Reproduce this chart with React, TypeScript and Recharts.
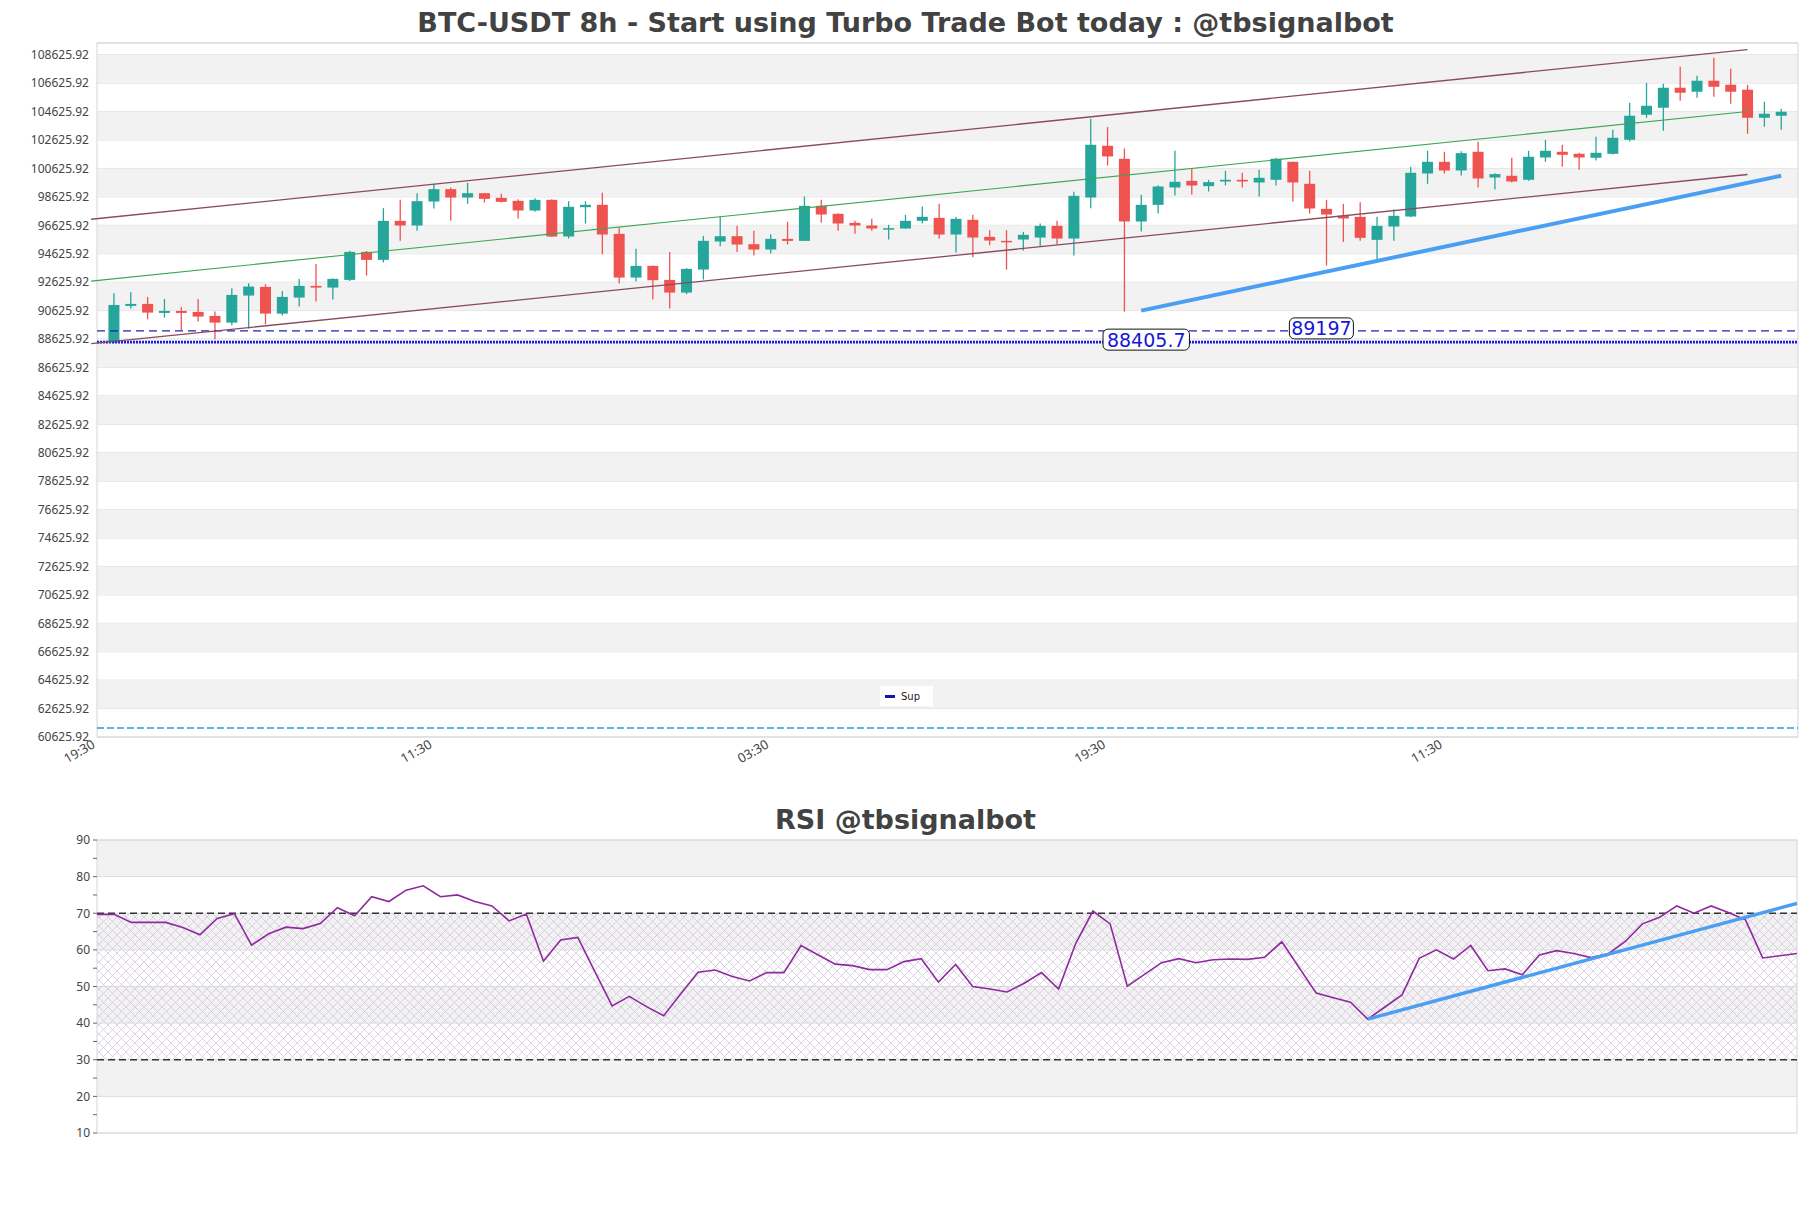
import React from "react";
import {
  Bar,
  CartesianGrid,
  ComposedChart,
  Legend,
  Line,
  LineChart,
  ReferenceArea,
  ReferenceDot,
  ReferenceLine,
  XAxis,
  YAxis,
} from "recharts";

// 8h candles, index 0..99
const opens = [
  88400, 90953, 91094, 90460, 90601, 90531, 90249, 89780, 91681, 92291,
  90413, 91540, 92362, 92244, 92784, 94755, 94192, 96938, 96609, 98299,
  99168, 98581, 98886, 98557, 98346, 97666, 98416, 95835, 97900, 98064,
  96023, 92948, 93770, 92784, 91892, 93511, 95483, 95858, 95295, 94920,
  95670, 95530, 97994, 97431, 96797, 96609, 96328, 96398, 96938, 97149,
  95976, 97009, 95812, 95530, 95624, 95765, 96586, 95694, 98581, 102219,
  101303, 96891, 98064, 99285, 99754, 99379, 99707, 99825, 99637, 99825,
  101092, 99543, 97783, 97290, 97220, 95600, 96539, 97243, 100271, 101092,
  100482, 101796, 99989, 100107, 99825, 101397, 101796, 101655, 101374, 101655,
  102641, 104401, 104894, 106302, 106021, 106795, 106514, 106162, 104190, 104331,
];
const highs = [
  91850, 91915, 91587, 91446, 90883, 91446, 90554, 92197, 92549, 92478,
  92009, 92854, 93910, 92900, 94826, 94826, 97830, 98416, 98886, 99543,
  99285, 99614, 98900, 98839, 98463, 98534, 98463, 98323, 98323, 98909,
  96468, 94967, 93800, 94755, 93605, 95882, 97220, 96586, 96234, 96003,
  96868, 98651, 98416, 97460, 96938, 97079, 96656, 97360, 97947, 98135,
  97220, 97360, 96281, 96281, 96163, 96750, 96938, 98980, 104120, 103533,
  102031, 98768, 99449, 101866, 100646, 99825, 100459, 100318, 100529, 101374,
  101120, 100459, 98416, 98135, 98252, 97220, 97760, 100740, 101866, 101796,
  101843, 102500, 100294, 101374, 101866, 102641, 102289, 101726, 102852, 103345,
  105246, 106654, 106584, 107781, 107147, 108415, 107640, 106514, 105317, 104824,
];
const lows = [
  88330, 90765, 90015, 90132, 89263, 89850, 88606, 89592, 89357, 89662,
  90272, 90906, 91259, 91399, 92713, 93089, 94004, 95530, 96234, 97807,
  96938, 98135, 98229, 98229, 97079, 97572, 95800, 95694, 96750, 94591,
  92526, 92666, 91399, 90765, 91775, 92807, 95155, 94755, 94497, 94638,
  95272, 95530, 96797, 96234, 96023, 96234, 95624, 96380, 96750, 95670,
  94708, 94380, 95225, 93511, 94849, 95131, 95272, 94497, 97830, 100834,
  90554, 96187, 97454, 98722, 98792, 99003, 99426, 99285, 98651, 99426,
  98299, 97454, 93793, 95459, 95530, 94192, 95530, 97200, 99543, 100271,
  100130, 99285, 99144, 99637, 99754, 101092, 100740, 100529, 101186, 101600,
  102524, 104190, 103275, 105387, 105598, 105669, 105176, 103064, 103556, 103345,
];
const closes = [
  91020, 91094, 90484, 90601, 90460, 90202, 89780, 91728, 92314, 90413,
  91587, 92362, 92244, 92854, 94755, 94192, 96938, 96609, 98323, 99168,
  98581, 98886, 98487, 98276, 97666, 98416, 95835, 97924, 98064, 95976,
  92948, 93770, 92760, 91892, 93558, 95530, 95858, 95272, 94920, 95670,
  95530, 97994, 97384, 96750, 96609, 96398, 96422, 96938, 97220, 95976,
  97079, 95765, 95553, 95483, 95952, 96586, 95694, 98698, 102289, 101468,
  96891, 98064, 99355, 99684, 99426, 99660, 99825, 99707, 99966, 101303,
  99637, 97807, 97384, 97103, 95741, 96586, 97290, 100318, 101092, 100482,
  101702, 99918, 100224, 99707, 101444, 101866, 101585, 101397, 101726, 102782,
  104331, 105035, 106302, 105950, 106795, 106373, 106021, 104190, 104472, 104613,
];

const rsiValues = [
  69.7, 69.7, 67.5, 67.5, 67.5, 66.1, 64.1, 68.6, 69.9, 61.3,
  64.4, 66.2, 65.8, 67.2, 71.5, 69.3, 74.5, 73.2, 76.3, 77.5,
  74.5, 75.0, 73.2, 72.0, 67.9, 69.8, 56.9, 62.7, 63.4, 54.0,
  44.7, 47.3, 44.5, 42.0, 48.0, 53.9, 54.5, 52.7, 51.5, 53.8,
  53.8, 61.2, 58.6, 56.1, 55.7, 54.6, 54.6, 56.8, 57.6, 51.2,
  56.0, 50.0, 49.3, 48.5, 50.9, 53.8, 49.3, 61.8, 70.6, 67.1,
  50.1, 53.3, 56.5, 57.6, 56.5, 57.3, 57.5, 57.4, 58.0, 62.2,
  55.2, 48.2, 46.9, 45.7, 41.1, 44.4, 47.7, 57.7, 60.0, 57.5,
  61.2, 54.3, 54.8, 53.2, 58.6, 59.8, 59.0, 57.9, 58.9, 62.3,
  67.1, 68.9, 72.0, 70.0, 72.0, 70.2, 68.2, 57.8, 58.4, 59.0,
];

const timeTickIndex = [-1, 19, 39, 59, 79];
const timeTickLabels = ["19:30", "11:30", "03:30", "19:30", "11:30"];

const priceTicks = [
  60625.92, 62625.92, 64625.92, 66625.92, 68625.92, 70625.92, 72625.92,
  74625.92, 76625.92, 78625.92, 80625.92, 82625.92, 84625.92, 86625.92,
  88625.92, 90625.92, 92625.92, 94625.92, 96625.92, 98625.92, 100625.92,
  102625.92, 104625.92, 106625.92, 108625.92,
];
const priceDomain = [60625.92, 109450];
const rsiTicks = [10, 15, 20, 25, 30, 35, 40, 45, 50, 55, 60, 65, 70, 75, 80, 85, 90];
const rsiGridValues = [10, 20, 30, 40, 50, 60, 70, 80, 90];
const rsiGrayBands = [[20, 30], [40, 50], [60, 70], [80, 90]];

// trend lines, as [index, price] end points
const channelUpper = [{ x: -1.35, y: 97050 }, { x: 97, y: 108990 }];
const channelMid = [{ x: -1.35, y: 92700 }, { x: 97, y: 104630 }];
const channelLower = [{ x: -1.35, y: 88300 }, { x: 97, y: 100200 }];
const supportTrend = [{ x: 61, y: 90620 }, { x: 99, y: 100110 }];
const rsiTrend = [{ x: 74, y: 41.1 }, { x: 99, y: 72.7 }];

const resistanceLevel = 89197;
const supportLevel = 88405.7;
const floorLevel = 61260;
const levelTags = [
  { x: 61.3, y: supportLevel, text: "88405.7" },
  { x: 71.7, y: resistanceLevel, text: "89197" },
];

const candles = opens.map((o, i) => ({
  i,
  o,
  h: highs[i],
  l: lows[i],
  c: closes[i],
  range: [lows[i], highs[i]],
}));
const rsiData = rsiValues.map((v, i) => ({ i, rsi: v }));

// every other tick gap is shaded grey, starting from the top band
const priceGrayBands: number[][] = [];
for (let k = 1; k + 1 < priceTicks.length; k += 2) {
  priceGrayBands.push([priceTicks[k], priceTicks[k + 1]]);
}

const UP = "#26a69a";
const DOWN = "#ef5350";
const FONT = "'Noto Sans', sans-serif";
const TITLE_FONT = "'DejaVu Sans', sans-serif";

function Candle(props: any) {
  const { x, width, payload } = props;
  let { y, height } = props;
  if (x == null || y == null || !payload) return null;
  if (height < 0) {
    y = y + height;
    height = -height;
  }
  const { o, h, l, c } = payload;
  const per = h === l ? 0 : height / (h - l);
  const py = (v: number) => y + (h - v) * per;
  const color = c >= o ? UP : DOWN;
  const cx = x + width / 2;
  const top = py(Math.max(o, c));
  const bot = py(Math.min(o, c));
  return (
    <g>
      <line x1={cx} x2={cx} y1={y} y2={y + height} stroke={color} strokeWidth={1.3} />
      <rect x={cx - 5.5} y={top} width={11} height={Math.max(1.5, bot - top)} fill={color} />
    </g>
  );
}

function PriceTag({ cx, cy, text }: { cx: number; cy: number; text: string }) {
  const w = text.length * 11.2 + 8;
  return (
    <g>
      <rect x={cx - w / 2} y={cy - 13} width={w} height={21} rx={5} fill="#fff" stroke="#111" strokeWidth={1} />
      <text x={cx} y={cy - 2.5} textAnchor="middle" dominantBaseline="central" fontSize={19} fill="#1717d6" fontFamily="'DejaVu Sans', sans-serif">
        {text}
      </text>
    </g>
  );
}

function TimeTick(props: any) {
  const { x, y, payload } = props;
  const label = timeTickLabels[timeTickIndex.indexOf(payload.value)] ?? "";
  return (
    <text x={x - 1} y={y + 10} transform={`rotate(-30, ${x - 1}, ${y + 10})`} textAnchor="end" fontSize={13} fill="#444" fontFamily={FONT}>
      {label}
    </text>
  );
}

function SupLegend() {
  return (
    <div style={{ background: "#fff", width: 53, height: 20, display: "flex", alignItems: "center", fontFamily: TITLE_FONT, fontSize: 10, color: "#222" }}>
      <span style={{ display: "inline-block", width: 10, height: 3, background: "#1414a8", marginLeft: 5, marginRight: 6 }} />
      Sup
    </div>
  );
}

const titleStyle = (top: number): React.CSSProperties => ({
  position: "absolute",
  left: 0,
  top,
  width: 1811,
  textAlign: "center",
  fontFamily: TITLE_FONT,
  fontWeight: 700,
  fontSize: 27,
  lineHeight: "30px",
  color: "#424242",
  whiteSpace: "nowrap",
});

export default function App() {
  return (
    <div style={{ position: "absolute", left: 0, top: 0, width: 1811, height: 1208, background: "#fff" }}>
      <div style={titleStyle(8)}>BTC-USDT 8h - Start using Turbo Trade Bot today : @tbsignalbot</div>
      <div style={{ position: "absolute", left: 0, top: 0 }}>
        <ComposedChart width={1811} height={800} data={candles} margin={{ top: 43, right: 13, bottom: 0, left: 0 }}>
          {priceGrayBands.map(([a, b]) => (
            <ReferenceArea key={a} y1={a} y2={b} fill="#f2f2f2" fillOpacity={1} stroke="none" ifOverflow="visible" />
          ))}
          <CartesianGrid vertical={false} stroke="#dcdcdc" />
          <ReferenceArea x1={-1} x2={100} y1={priceDomain[0]} y2={priceDomain[1]} fill="none" stroke="#d6d6d6" ifOverflow="visible" />
          <XAxis
            type="number"
            dataKey="i"
            domain={[-1, 100]}
            ticks={timeTickIndex}
            interval={0}
            allowDataOverflow
            height={63}
            tickLine={false}
            axisLine={false}
            tickSize={0}
            tickMargin={0}
            tick={<TimeTick />}
          />
          <YAxis
            type="number"
            domain={priceDomain}
            ticks={priceTicks}
            interval={0}
            allowDataOverflow
            width={97}
            tickLine={false}
            axisLine={false}
            tickSize={5}
            tickMargin={3}
            tickFormatter={(v: number) => v.toFixed(2)}
            tick={{ fontSize: 12, fill: "#444", fontFamily: FONT }}
          />
          <ReferenceLine y={floorLevel} stroke="#2f9bd6" strokeWidth={1.5} strokeDasharray="7 3" />
          <ReferenceLine y={resistanceLevel} stroke="#2222a8" strokeWidth={1.3} strokeDasharray="8 5" />
          <ReferenceLine y={supportLevel} stroke="#1a1adf" strokeWidth={2.6} strokeDasharray="2 1" />
          <ReferenceLine segment={channelUpper} stroke="#8a4a5e" strokeWidth={1.3} ifOverflow="visible" />
          <ReferenceLine segment={channelLower} stroke="#8a4a5e" strokeWidth={1.3} ifOverflow="visible" />
          <ReferenceLine segment={channelMid} stroke="#3aa655" strokeWidth={1.1} ifOverflow="visible" />
          <Bar dataKey="range" barSize={11} shape={Candle} isAnimationActive={false} />
          <ReferenceLine segment={supportTrend} stroke="#4a9ff2" strokeWidth={4} ifOverflow="visible" />
          {levelTags.map((t) => (
            <ReferenceDot
              key={t.text}
              x={t.x}
              y={t.y}
              r={0}
              ifOverflow="visible"
              shape={(p: any) => <PriceTag cx={p.cx} cy={p.cy} text={t.text} />}
            />
          ))}
          <Legend
            layout="horizontal"
            verticalAlign="middle"
            align="center"
            wrapperStyle={{ left: 880, top: 686, width: 53, height: 20 }}
            content={() => <SupLegend />}
          />
        </ComposedChart>
      </div>

      <div style={titleStyle(805)}>RSI @tbsignalbot</div>
      <div style={{ position: "absolute", left: 0, top: 800 }}>
        <LineChart width={1811} height={400} data={rsiData} margin={{ top: 40, right: 14, bottom: 67, left: 0 }}>
          <defs>
            <pattern id="rsiHatch" width="9" height="9" patternUnits="userSpaceOnUse">
              <path d="M0,0 L9,9 M9,0 L0,9" stroke="#cfc0da" strokeWidth={0.7} />
            </pattern>
          </defs>
          {rsiGrayBands.map(([a, b]) => (
            <ReferenceArea key={a} y1={a} y2={b} fill="#f2f2f2" fillOpacity={1} stroke="none" />
          ))}
          <ReferenceArea y1={30} y2={70} fill="url(#rsiHatch)" fillOpacity={1} stroke="none" />
          {rsiGridValues.map((v) => (
            <ReferenceLine key={v} y={v} stroke="#dcdcdc" />
          ))}
          <ReferenceArea x1={0} x2={99} y1={10} y2={90} fill="none" stroke="#d6d6d6" ifOverflow="visible" />
          <XAxis type="number" dataKey="i" domain={[0, 99]} hide />
          <YAxis
            type="number"
            domain={[10, 90]}
            ticks={rsiTicks}
            interval={0}
            width={97}
            axisLine={false}
            tickSize={4}
            tickMargin={3}
            tickLine={{ stroke: "#666" }}
            tickFormatter={(v: number) => (v % 10 === 0 ? String(v) : "")}
            tick={{ fontSize: 12, fill: "#444", fontFamily: FONT }}
          />
          <ReferenceLine y={70} stroke="#333" strokeWidth={1.3} strokeDasharray="7 4" />
          <ReferenceLine y={30} stroke="#333" strokeWidth={1.3} strokeDasharray="7 4" />
          <Line type="linear" dataKey="rsi" stroke="#8e2a9e" strokeWidth={1.6} dot={false} isAnimationActive={false} />
          <ReferenceLine segment={rsiTrend} stroke="#4a9ff2" strokeWidth={3.5} ifOverflow="visible" />
        </LineChart>
      </div>
    </div>
  );
}
